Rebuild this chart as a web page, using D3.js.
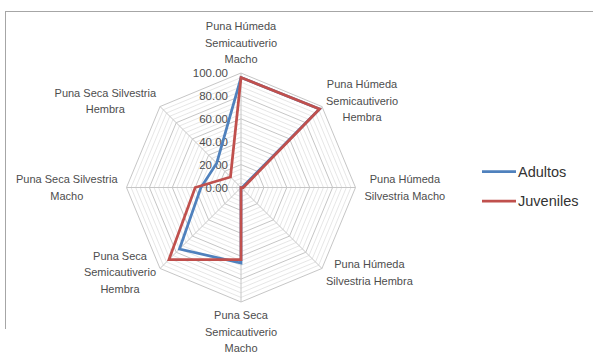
<!DOCTYPE html>
<html>
<head>
<meta charset="utf-8">
<script src="https://cdn.jsdelivr.net/npm/d3@7"></script>
<style>
  html, body { margin: 0; padding: 0; background: #ffffff; }
  svg { display: block; }
  text { font-family: "Liberation Sans", Arial, sans-serif; }
</style>
</head>
<body>
<div id="chart"></div>
<script>
// Axis names, clockwise from the top
const categories = [
  "Puna Húmeda\nSemicautiverio\nMacho",
  "Puna Húmeda\nSemicautiverio\nHembra",
  "Puna Húmeda\nSilvestria Macho",
  "Puna Húmeda\nSilvestria Hembra",
  "Puna Seca\nSemicautiverio\nMacho",
  "Puna Seca\nSemicautiverio\nHembra",
  "Puna Seca Silvestria\nMacho",
  "Puna Seca Silvestria\nHembra"
];
const seriesNames = ["Adultos", "Juveniles"];
const adultos   = [96, 97, 1, 0, 66, 76, 35, 30];
const juveniles = [96, 97, 2, 0, 63, 89, 40, 13];
const tickValues = [0, 20, 40, 60, 80, 100];
const minorStep = 4;

const W = 593, H = 360;
const cx = 241, cy = 187.5, R = 114.5;
const colors = ["#4f81bd", "#c0504d"];

const svg = d3.select("#chart").append("svg")
  .attr("width", W).attr("height", H);

// chart area frame (top and left edges)
svg.append("line").attr("x1", 5).attr("x2", W).attr("y1", 11.5).attr("y2", 11.5)
  .attr("stroke", "#a6a6a6").attr("stroke-width", 1);
svg.append("line").attr("x1", 5.5).attr("x2", 5.5).attr("y1", 11).attr("y2", 329)
  .attr("stroke", "#a6a6a6").attr("stroke-width", 1);

const r = d3.scaleLinear().domain([0, 100]).range([0, R]);
const angle = d3.scaleLinear().domain([0, categories.length]).range([0, 2 * Math.PI]);
const n = categories.length;

const g = svg.append("g").attr("transform", `translate(${cx},${cy})`);

const ring = v => d3.range(n).map(i => [angle(i), r(v)]);
const ringLine = d3.lineRadial().angle(d => d[0]).radius(d => d[1]).curve(d3.curveLinearClosed);

// minor rings
const minorVals = d3.range(minorStep, 100, minorStep).filter(v => v % 20 !== 0);
g.append("g").selectAll("path").data(minorVals).join("path")
  .attr("d", v => ringLine(ring(v)))
  .attr("fill", "none").attr("stroke", "#e0e0e0").attr("stroke-width", 0.8);

// major rings
g.append("g").selectAll("path").data(tickValues.filter(v => v > 0)).join("path")
  .attr("d", v => ringLine(ring(v)))
  .attr("fill", "none").attr("stroke", "#c6c6c6").attr("stroke-width", 1);

// spokes
g.append("g").selectAll("line").data(d3.range(n)).join("line")
  .attr("x1", 0).attr("y1", 0)
  .attr("x2", i => r(100) * Math.sin(angle(i)))
  .attr("y2", i => -r(100) * Math.cos(angle(i)))
  .attr("stroke", "#c6c6c6").attr("stroke-width", 1);

// value labels along the vertical axis
g.append("g").selectAll("text").data(tickValues).join("text")
  .attr("x", -13).attr("y", v => -r(v))
  .attr("dy", "0.36em")
  .attr("text-anchor", "end")
  .attr("font-size", 11.5)
  .attr("fill", "#4d4d4d")
  .text(v => d3.format(".2f")(v));

// series polygons
const seriesData = [adultos, juveniles];
const dataLine = d3.lineRadial()
  .angle((d, i) => angle(i)).radius(d => r(d)).curve(d3.curveLinearClosed);
g.append("g").selectAll("path").data(seriesData).join("path")
  .attr("d", d => dataLine(d))
  .attr("fill", "none")
  .attr("stroke", (d, i) => colors[i])
  .attr("stroke-width", 2.75)
  .attr("stroke-linejoin", "miter");

// category labels
const fs = 11, lh = 16.5;
categories.forEach((name, i) => {
  const lines = name.split("\n");
  const a = angle(i);
  const s = Math.sin(a), c = Math.cos(a);
  const vx = r(100) * s, vy = -r(100) * c;
  const t = g.append("text")
    .attr("font-size", fs).attr("fill", "#4d4d4d").attr("text-anchor", "middle");
  lines.forEach((ln, k) => t.append("tspan").text(ln));
  let w = 0;
  t.selectAll("tspan").each(function () { w = Math.max(w, this.getComputedTextLength()); });
  const h = lines.length * lh;
  let bx, by;
  if (Math.abs(s) < 0.01) {            // top / bottom
    bx = vx;
    by = c > 0 ? vy - 5.5 - h / 2 : vy + 5 + h / 2;
  } else if (Math.abs(c) < 0.01) {     // left / right
    bx = vx + Math.sign(s) * (9 + w / 2);
    by = vy;
  } else {                             // diagonals
    bx = vx + Math.sign(s) * (4 + w / 2);
    by = vy + (c > 0 ? -5.5 : 4);
  }
  t.selectAll("tspan")
    .attr("x", bx)
    .attr("y", (d, k) => by - h / 2 + lh * (k + 0.5))
    .attr("dy", "0.35em");
});

// legend
const leg = svg.append("g");
seriesNames.forEach((nm, i) => {
  const y = 171.5 + i * 29.5;
  leg.append("line").attr("x1", 482).attr("x2", 516).attr("y1", y).attr("y2", y)
    .attr("stroke", colors[i]).attr("stroke-width", 2.75);
  leg.append("text").attr("x", 518).attr("y", y).attr("dy", "0.35em")
    .attr("font-size", 14.5).attr("fill", "#333333").text(nm);
});
</script>
</body>
</html>
